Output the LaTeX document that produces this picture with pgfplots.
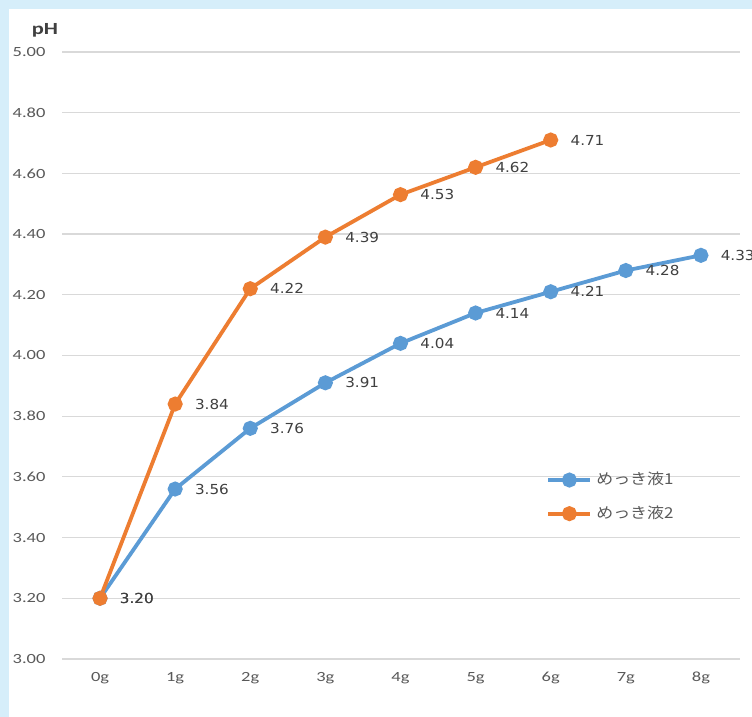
\documentclass[border=0pt]{standalone}
\usepackage{pgfplots}
\pgfplotsset{compat=1.18}
\usepackage{fontspec}
\setmainfont{Carlito}
\newfontfamily\tickfont[FakeStretch=1.32]{Carlito}
\newfontfamily\labfont[FakeStretch=1.1]{DejaVu Sans}
\newfontfamily\jpfont[FakeStretch=1.13]{Noto Sans CJK JP}
\definecolor{bgblue}{RGB}{214,238,250}
\definecolor{s1}{RGB}{91,155,213}
\definecolor{s2}{RGB}{237,125,49}
\definecolor{gridc}{RGB}{217,217,217}
\definecolor{tickc}{RGB}{89,89,89}
\definecolor{labc}{RGB}{64,64,64}

\begin{document}
\begin{tikzpicture}[x=0.5pt,y=0.5pt]
\useasboundingbox (0,0) rectangle (752,717);
\fill[bgblue] (0,0) rectangle (752,717);
\fill[white] (9,0) rectangle (752,708);
\node[font=\tickfont\bfseries\fontsize{8.5}{10}\selectfont, text=labc] at (45,687) {pH};
\begin{axis}[
  at={(31.25pt,29pt)}, anchor=south west,
  scale only axis, width=338.75pt, height=303.5pt,
  xmin=-0.5, xmax=8.52, ymin=3, ymax=5,
  clip=false,
  axis line style={draw=none},
  tick style={draw=none},
  ymajorgrids, grid style={gridc, line width=0.6pt},
  ytick={3,3.2,3.4,3.6,3.8,4,4.2,4.4,4.6,4.8,5},
  yticklabel style={/pgf/number format/fixed, /pgf/number format/fixed zerofill,
    /pgf/number format/precision=2, xshift=-5pt},
  /pgf/number format/assume math mode=true,
  xtick={0,1,2,3,4,5,6,7,8},
  xticklabels={0g,1g,2g,3g,4g,5g,6g,7g,8g},
  ticklabel style={font=\tickfont\fontsize{7}{9}\selectfont, text=tickc},
  xticklabel style={yshift=-3pt},
  every node near coord/.append style={anchor=west, inner sep=0pt, xshift=9pt,
    font=\labfont\fontsize{6.9}{8}\selectfont, text=labc},
  legend style={draw=none, fill=none, at={(0.705,0.3215)}, anchor=north west,
    font=\jpfont\fontsize{7.5}{9}\selectfont, text=tickc, row sep=5pt},
  legend cell align=left,
  legend image code/.code={\draw[#1, mark repeat=2, mark phase=2] plot coordinates {(0pt,0pt) (10.5pt,0pt) (21pt,0pt)};},
]
\addplot[s1, line width=1.9pt, mark=*, mark size=2.8pt,
  nodes near coords={\pgfmathprintnumber[fixed,fixed zerofill,precision=2]{\pgfplotspointmeta}},
  point meta=y] coordinates {
  (0,3.20) (1,3.56) (2,3.76) (3,3.91) (4,4.04) (5,4.14) (6,4.21) (7,4.28) (8,4.33)};
\addlegendentry{めっき液1}
\addplot[s2, line width=1.9pt, mark=*, mark size=2.8pt,
  nodes near coords={\pgfmathprintnumber[fixed,fixed zerofill,precision=2]{\pgfplotspointmeta}},
  point meta=y] coordinates {
  (0,3.20) (1,3.84) (2,4.22) (3,4.39) (4,4.53) (5,4.62) (6,4.71)};
\addlegendentry{めっき液2}
\end{axis}
\end{tikzpicture}
\end{document}
